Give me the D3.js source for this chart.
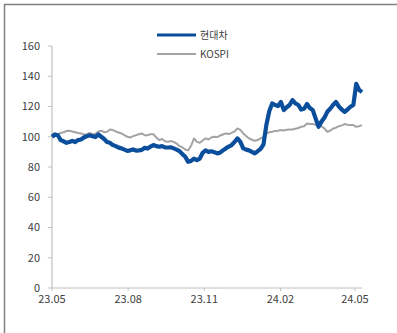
<!DOCTYPE html>
<html>
<head>
<meta charset="utf-8">
<script src="https://cdn.jsdelivr.net/npm/d3@7"></script>
<style>
 body { margin: 0; background: #fff; }
 text { font-family: "Noto Sans CJK KR", "Open Sans", sans-serif; fill: #404040; }
</style>
</head>
<body>
<script>
// half-weekly index values (3.5 day steps), 2023-05-01 .. 2024-05-12
var startDate = new Date(2023, 4, 1)
var stepHours = 84

var hyundai = [100, 101.5, 101, 97.8, 97, 96, 96.5, 97.3, 96.5, 97.8,
 98.2, 99.5, 100.4, 101, 100.4, 99.8, 101.5, 100, 98.5, 96.6,
 96, 94.5, 93.8, 92.8, 92.3, 91.5, 90.7, 91, 91.6, 90.8,
 91, 91.3, 92.7, 92.2, 93.5, 94.5, 93.8, 93.4, 93.8, 93,
 92.9, 93, 92.3, 91.5, 90.5, 88.5, 86.8, 83.4, 84, 85.5,
 84.5, 85.5, 89.4, 91, 90, 90.4, 89.8, 89, 89.5, 91,
 92.3, 93.5, 94.5, 96.5, 98.9, 96.6, 92.3, 91.5, 91, 90,
 89, 90.5, 92, 95, 108, 117, 122, 121, 120.3, 123,
 117.6, 119.5, 121, 124.2, 122, 121, 118, 118.5, 121.6, 119,
 117.6, 112, 106.6, 110, 112.5, 116.5, 118.5, 121, 123, 120,
 118, 116.5, 118, 119.8, 121, 135, 131, 129.5]

var kospi = [100, 101, 101.7, 102.5, 103, 103.8, 104, 103.5, 103, 102.5,
 102.2, 101.5, 101.7, 102.5, 101.7, 102, 103.5, 104, 103, 103.3,
 104.8, 104.4, 103.5, 102.8, 102.2, 101, 100, 99.5, 100.4, 101,
 101.7, 102.2, 101, 101, 101.7, 101.7, 99.5, 97.8, 98.5, 97,
 96.6, 97.2, 96.6, 95.5, 93.8, 93, 91.6, 91, 94, 98.9,
 96.6, 96, 97.5, 98.9, 98.2, 99.5, 100, 99.8, 100.8, 101.5,
 102.2, 101.8, 102.6, 103.5, 105.5, 104.5, 102.2, 100.5, 98.9, 98,
 97.3, 97.8, 98.9, 100, 102.2, 103, 103.3, 103.8, 104, 104.4,
 104.2, 104.6, 104.8, 104.8, 105.3, 105.8, 106.6, 107, 108.8, 108.5,
 108.4, 108, 107.5, 107, 105.5, 103.3, 104, 105.5, 106, 107,
 107.5, 108.4, 108, 107.7, 107.7, 106.6, 107, 107.7]

var seriesNames = ['현대차', 'KOSPI']
var seriesColors = ['#0b4f9c', '#a3a3a3']
var seriesWidths = [4.2, 2]

var yTicks = [0, 20, 40, 60, 80, 100, 120, 140, 160]
var xTickDates = [new Date(2023, 4, 1), new Date(2023, 7, 1), new Date(2023, 10, 1), new Date(2024, 1, 1), new Date(2024, 4, 1)]

var dates = hyundai.map(function(d, i) { return d3.timeHour.offset(startDate, i * stepHours) })

var series = [hyundai, kospi].map(function(vals, k) {
  return { id: seriesNames[k], values: vals.map(function(v, i) { return { date: dates[i], v: v } }) }
})

var svg = d3.select('body').append('svg').attr('width', 397).attr('height', 333)

// frame (top + left)
svg.append('path').attr('d', 'M4.5,333 V4.5 H397').attr('fill', 'none')
  .attr('stroke', '#808080').attr('stroke-width', 1.5)

var x = d3.scaleTime().domain([new Date(2023, 4, 1), new Date(2024, 4, 1)]).range([52, 355])
var y = d3.scaleLinear().domain([0, 160]).range([288, 46])

// y axis
var gy = svg.append('g').attr('transform', 'translate(52,0)')
gy.append('line').attr('y1', y(0)).attr('y2', y(160)).attr('stroke', '#c0c0c0').attr('stroke-width', 1.2)
gy.selectAll('.yt').data(yTicks).enter().append('line')
  .attr('x1', -4).attr('x2', 0).attr('y1', function(d) { return y(d) }).attr('y2', function(d) { return y(d) })
  .attr('stroke', '#c0c0c0')
gy.selectAll('.yl').data(yTicks).enter().append('text')
  .attr('x', -12).attr('y', function(d) { return y(d) }).attr('dy', '0.35em')
  .attr('text-anchor', 'end').attr('font-size', 11).text(function(d) { return d })

// x axis
var gx = svg.append('g').attr('transform', 'translate(0,' + y(0) + ')')
gx.append('line').attr('x1', 52).attr('x2', 362).attr('stroke', '#c0c0c0').attr('stroke-width', 1.2)
gx.selectAll('.xt').data(xTickDates).enter().append('line')
  .attr('x1', function(d) { return x(d) }).attr('x2', function(d) { return x(d) })
  .attr('y1', 0).attr('y2', 3).attr('stroke', '#c0c0c0')
gx.selectAll('.xl').data(xTickDates).enter().append('text')
  .attr('x', function(d) { return x(d) }).attr('y', 15)
  .attr('text-anchor', 'middle').attr('font-size', 11).text(d3.timeFormat('%y.%m'))

var line = d3.line().x(function(d) { return x(d.date) }).y(function(d) { return y(d.v) })

// KOSPI first, then 현대차 on top
;[1, 0].forEach(function(k) {
  svg.append('path').datum(series[k].values).attr('d', line)
    .attr('fill', 'none').attr('stroke', seriesColors[k]).attr('stroke-width', seriesWidths[k])
    .attr('stroke-linejoin', 'round')
})

// legend
var lg = svg.selectAll('.lg').data(seriesNames).enter().append('g')
  .attr('transform', function(d, i) { return 'translate(157,' + (35 + i * 19) + ')' })
lg.append('line').attr('x1', 0).attr('x2', 39)
  .attr('stroke', function(d, i) { return seriesColors[i] })
  .attr('stroke-width', function(d, i) { return i == 0 ? 3 : 2 })
lg.append('text').attr('x', 43).attr('dy', '0.35em').attr('font-size', 10).text(function(d) { return d })
</script>
</body>
</html>
